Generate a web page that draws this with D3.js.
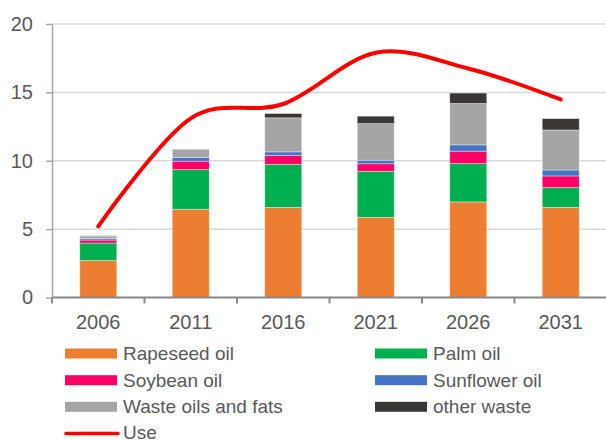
<!DOCTYPE html>
<html>
<head>
<meta charset="utf-8">
<script src="https://cdn.jsdelivr.net/npm/d3@7"></script>
<style>
    body { margin: 0; background: #ffffff; }
    svg { display: block; }
    text { font-family: 'Liberation Sans', Arial, sans-serif; fill: #595959; }
</style>
</head>
<body>
<svg id="chart" width="606" height="441"></svg>
<script>

let years = ['2006', '2011', '2016', '2021', '2026', '2031'];

let rapeseed  = [2.70, 6.45, 6.59, 5.86, 6.99, 6.59],
    palm      = [1.28, 2.90, 3.15, 3.37, 2.80, 1.45],
    soybean   = [0.22, 0.62, 0.64, 0.55, 0.91, 0.85],
    sunflower = [0.10, 0.26, 0.27, 0.26, 0.46, 0.43],
    waste     = [0.19, 0.58, 2.49, 2.68, 3.03, 2.93],
    other     = [0.02, 0.03, 0.31, 0.54, 0.76, 0.83];

let use = [5.2, 13.1, 14.15, 17.9, 16.75, 14.48];

let y_ticks = [0, 5, 10, 15, 20];

let series_names = ['Rapeseed oil', 'Palm oil', 'Soybean oil',
                    'Sunflower oil', 'Waste oils and fats', 'other waste'];

let series_colors = ['#ED7D31', '#00B050', '#FF0066',
                     '#4472C4', '#A5A5A5', '#393735'];


draw_chart(d3.select('#chart'));


function draw_chart (svg) {

    let left = 52,
        right = 607,
        top = 24,
        bottom = 297.5;

    let x = d3.scaleBand()
        .domain(years)
        .range([left, right])
        .paddingInner(0.6)
        .paddingOuter(0.3);

    let y = d3.scaleLinear()
        .domain([0, 20])
        .range([bottom, top]);

    // Stack the series into one table keyed by year
    let table = years.map(function (year, i) {
        return {
            year: year,
            s0: rapeseed[i],
            s1: palm[i],
            s2: soybean[i],
            s3: sunflower[i],
            s4: waste[i],
            s5: other[i]
        };
    });

    let keys = ['s0', 's1', 's2', 's3', 's4', 's5'];

    let stacked = d3.stack().keys(keys)(table);

    // Horizontal gridlines
    svg.append('g')
        .selectAll('line')
        .data(y_ticks)
        .enter()
        .append('line')
        .attr('x1', left)
        .attr('x2', 606)
        .attr('y1', d => y(d))
        .attr('y2', d => y(d))
        .attr('stroke', '#d9d9d9')
        .attr('stroke-width', 1.5);

    // Stacked bars
    svg.append('g')
        .selectAll('g')
        .data(stacked)
        .enter()
        .append('g')
        .attr('fill', (d, i) => series_colors[i])
        .selectAll('rect')
        .data(d => d)
        .enter()
        .append('rect')
        .attr('x', d => x(d.data.year))
        .attr('width', x.bandwidth())
        .attr('y', d => y(d[1]))
        .attr('height', d => y(d[0]) - y(d[1]))
        .attr('stroke', '#ffffff')
        .attr('stroke-opacity', 0.45)
        .attr('stroke-width', 0.8);

    // Y axis
    let y_axis = svg.append('g')
        .attr('transform', 'translate(' + left + ',0)')
        .call(d3.axisLeft(y)
            .tickValues(y_ticks)
            .tickSize(6)
            .tickPadding(13)
            .tickSizeOuter(0));

    y_axis.select('.domain')
        .attr('stroke', '#a6a6a6')
        .attr('stroke-width', 1.5);

    y_axis.selectAll('.tick line')
        .attr('stroke', '#a6a6a6')
        .attr('stroke-width', 1.5);

    y_axis.selectAll('text')
        .style('font-size', '20px')
        .style('font-family', null)
        .attr('fill', '#595959');

    // X axis: labels centered on bars, ticks between categories
    let step = x.step(),
        boundaries = years.map((d, i) => left + i * step);

    let x_axis = svg.append('g')
        .attr('transform', 'translate(0,' + bottom + ')')
        .call(d3.axisBottom(x)
            .tickSize(0)
            .tickPadding(17)
            .tickSizeOuter(0));

    x_axis.select('.domain').remove();

    x_axis.selectAll('text')
        .style('font-size', '20px')
        .style('font-family', null)
        .attr('fill', '#595959');

    x_axis.append('line')
        .attr('x1', left)
        .attr('x2', 606)
        .attr('stroke', '#898989')
        .attr('stroke-width', 2);

    x_axis.selectAll('.boundary')
        .data(boundaries)
        .enter()
        .append('line')
        .attr('class', 'boundary')
        .attr('x1', d => d)
        .attr('x2', d => d)
        .attr('y1', 0)
        .attr('y2', 6)
        .attr('stroke', '#898989')
        .attr('stroke-width', 2);

    // Use line
    let line = d3.line()
        .x((d, i) => x(years[i]) + x.bandwidth() / 2)
        .y(d => y(d))
        .curve(d3.curveCardinal.tension(0));

    svg.append('path')
        .datum(use)
        .attr('d', line)
        .attr('fill', 'none')
        .attr('stroke', '#FF0000')
        .attr('stroke-width', 4)
        .attr('stroke-linecap', 'round');

    draw_legend(svg);

}

function draw_legend (svg) {

    let cols = [65, 375],
        rows = [353.5, 380.2, 406.8, 432.5],
        sw = 52;

    let g = svg.append('g');

    series_names.forEach(function (name, i) {

        let cx = cols[i % 2],
            cy = rows[Math.floor(i / 2)];

        g.append('rect')
            .attr('x', cx)
            .attr('y', cy - 5)
            .attr('width', sw)
            .attr('height', 10)
            .attr('fill', series_colors[i]);

        add_label(g, cx + sw + 6, cy, name);

    });

    // Line entry for use
    let cy = rows[3];

    g.append('line')
        .attr('x1', 66)
        .attr('x2', 66 + sw)
        .attr('y1', cy + 1)
        .attr('y2', cy + 1)
        .attr('stroke', '#FF0000')
        .attr('stroke-width', 3.5)
        .attr('stroke-linecap', 'round');

    add_label(g, 65 + sw + 6, cy - 0.5, 'Use');

}

function add_label (g, x, cy, label) {

    g.append('text')
        .attr('x', x)
        .attr('y', cy + 6.5)
        .style('font-size', '19px')
        .text(label);

}

</script>
</body>
</html>
